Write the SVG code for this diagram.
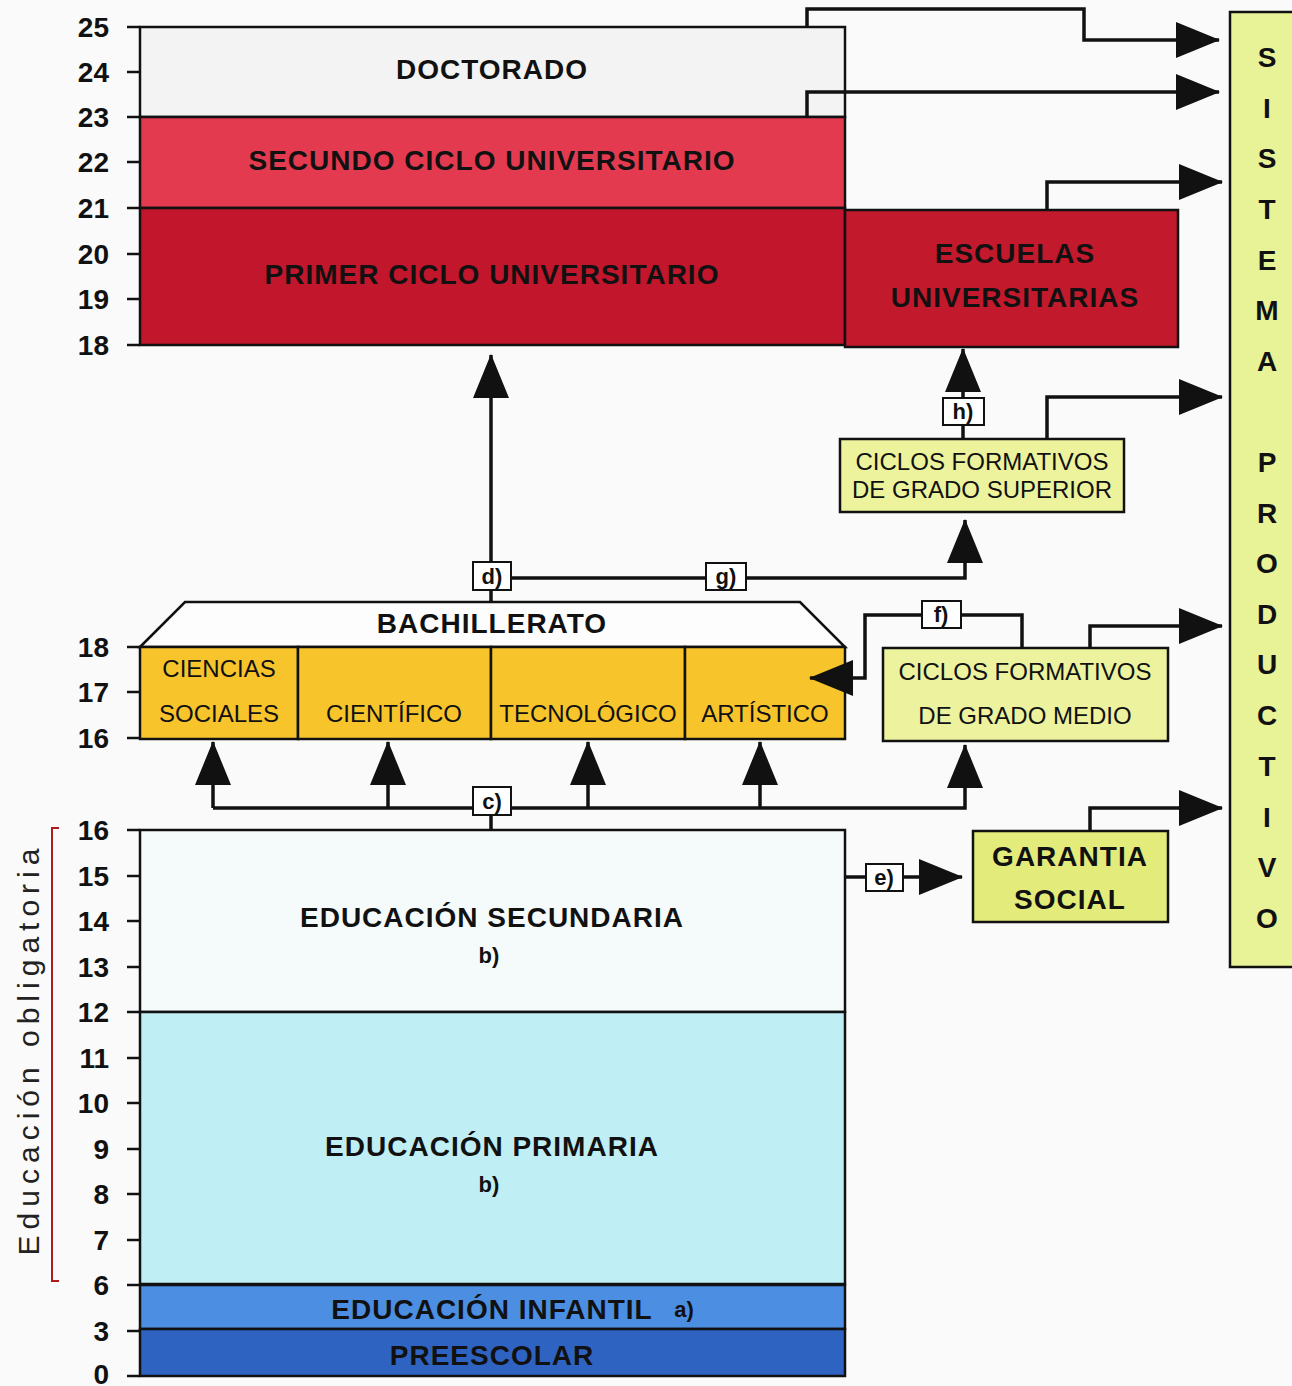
<svg xmlns="http://www.w3.org/2000/svg" width="1292" height="1386" viewBox="0 0 1292 1386">
<style>
.ax{font-family:"Liberation Sans",Arial,sans-serif;font-weight:bold;font-size:28px;text-anchor:end;fill:#111}
.bl{font-family:"Liberation Sans",Arial,sans-serif;font-weight:bold;font-size:28px;letter-spacing:1px;text-anchor:middle;fill:#111}
.rg{font-family:"Liberation Sans",Arial,sans-serif;font-size:24px;text-anchor:middle;fill:#111}
.sm{font-family:"Liberation Sans",Arial,sans-serif;font-weight:bold;font-size:22px;text-anchor:middle;fill:#111}
.sp{font-family:"Liberation Sans",Arial,sans-serif;font-weight:bold;font-size:28px;text-anchor:middle;fill:#111}
.bx{stroke:#111;stroke-width:2.5}
.tk{stroke:#111;stroke-width:2.5}
.cn{fill:none;stroke:#111;stroke-width:3.5}
.lb{fill:#fff;stroke:#111;stroke-width:2}
</style>
<defs>
<marker id="ah" viewBox="0 0 44 36" markerWidth="44" markerHeight="36" refX="43" refY="18" orient="auto" markerUnits="userSpaceOnUse">
<polygon points="0,0 44,18 0,36" fill="#111"/>
</marker>
</defs>
<rect width="1292" height="1386" fill="#fafafa"/>

<!-- axis -->
<g id="axis-top">
<line class="tk" x1="127" y1="27" x2="140" y2="27"/><text class="ax" x="109" y="37">25</text>
<line class="tk" x1="127" y1="72" x2="140" y2="72"/><text class="ax" x="109" y="82">24</text>
<line class="tk" x1="127" y1="117" x2="140" y2="117"/><text class="ax" x="109" y="127">23</text>
<line class="tk" x1="127" y1="162" x2="140" y2="162"/><text class="ax" x="109" y="172">22</text>
<line class="tk" x1="127" y1="208" x2="140" y2="208"/><text class="ax" x="109" y="218">21</text>
<line class="tk" x1="127" y1="254" x2="140" y2="254"/><text class="ax" x="109" y="264">20</text>
<line class="tk" x1="127" y1="299" x2="140" y2="299"/><text class="ax" x="109" y="309">19</text>
<line class="tk" x1="127" y1="345" x2="140" y2="345"/><text class="ax" x="109" y="355">18</text>
</g>
<g id="axis-mid">
<line class="tk" x1="127" y1="647" x2="140" y2="647"/><text class="ax" x="109" y="657">18</text>
<line class="tk" x1="127" y1="692" x2="140" y2="692"/><text class="ax" x="109" y="702">17</text>
<line class="tk" x1="127" y1="738" x2="140" y2="738"/><text class="ax" x="109" y="748">16</text>
</g>
<g id="axis-low">
<line class="tk" x1="127" y1="830" x2="140" y2="830"/><text class="ax" x="109" y="840">16</text>
<line class="tk" x1="127" y1="876" x2="140" y2="876"/><text class="ax" x="109" y="886">15</text>
<line class="tk" x1="127" y1="921" x2="140" y2="921"/><text class="ax" x="109" y="931">14</text>
<line class="tk" x1="127" y1="967" x2="140" y2="967"/><text class="ax" x="109" y="977">13</text>
<line class="tk" x1="127" y1="1012" x2="140" y2="1012"/><text class="ax" x="109" y="1022">12</text>
<line class="tk" x1="127" y1="1058" x2="140" y2="1058"/><text class="ax" x="109" y="1068">11</text>
<line class="tk" x1="127" y1="1103" x2="140" y2="1103"/><text class="ax" x="109" y="1113">10</text>
<line class="tk" x1="127" y1="1149" x2="140" y2="1149"/><text class="ax" x="109" y="1159">9</text>
<line class="tk" x1="127" y1="1194" x2="140" y2="1194"/><text class="ax" x="109" y="1204">8</text>
<line class="tk" x1="127" y1="1240" x2="140" y2="1240"/><text class="ax" x="109" y="1250">7</text>
<line class="tk" x1="127" y1="1285" x2="140" y2="1285"/><text class="ax" x="109" y="1295">6</text>
<line class="tk" x1="127" y1="1331" x2="140" y2="1331"/><text class="ax" x="109" y="1341">3</text>
<line class="tk" x1="127" y1="1376" x2="140" y2="1376"/><text class="ax" x="109" y="1384">0</text>
</g>
<g id="obligatoria">
<path d="M59,828 H52 V1281 H59" fill="none" stroke="#b01c1c" stroke-width="2"/>
<text transform="translate(39,1049) rotate(-90)" font-family="Liberation Sans, Arial, sans-serif" font-size="30" letter-spacing="6" text-anchor="middle" fill="#222">Educación obligatoria</text>
</g>

<!-- university -->
<g id="doctorado"><rect class="bx" x="140" y="27" width="705" height="90" fill="#f4f3f3"/><text class="bl" x="492" y="79">DOCTORADO</text></g>
<g id="segundo"><rect class="bx" x="140" y="117" width="705" height="91" fill="#e43a50"/><text class="bl" x="492" y="170">SECUNDO CICLO UNIVERSITARIO</text></g>
<g id="primer"><rect class="bx" x="140" y="208" width="705" height="137" fill="#c1162b"/><text class="bl" x="492" y="284">PRIMER CICLO UNIVERSITARIO</text></g>
<g id="escuelas"><rect class="bx" x="845" y="210" width="333" height="137" fill="#c3192d"/><text class="bl" x="1015" y="263">ESCUELAS</text><text class="bl" x="1015" y="307">UNIVERSITARIAS</text></g>

<!-- bachillerato -->
<g id="bachillerato">
<polygon class="bx" points="140,647 185,602 800,602 845,647" fill="#fdfdfd"/>
<text class="bl" x="492" y="633">BACHILLERATO</text>
<rect class="bx" x="140" y="647" width="158" height="92" fill="#f8c42c"/>
<rect class="bx" x="298" y="647" width="193" height="92" fill="#f8c42c"/>
<rect class="bx" x="491" y="647" width="194" height="92" fill="#f8c42c"/>
<rect class="bx" x="685" y="647" width="160" height="92" fill="#f8c42c"/>
<text class="rg" x="219" y="677">CIENCIAS</text>
<text class="rg" x="219" y="722">SOCIALES</text>
<text class="rg" x="394" y="722">CIENTÍFICO</text>
<text class="rg" x="588" y="722">TECNOLÓGICO</text>
<text class="rg" x="765" y="722">ARTÍSTICO</text>
</g>

<g id="cfgs"><rect class="bx" x="840" y="439" width="284" height="73" fill="#edf39c"/><text class="rg" x="982" y="470">CICLOS FORMATIVOS</text><text class="rg" x="982" y="498">DE GRADO SUPERIOR</text></g>
<g id="cfgm"><rect class="bx" x="883" y="648" width="285" height="93" fill="#ecf29e"/><text class="rg" x="1025" y="680">CICLOS FORMATIVOS</text><text class="rg" x="1025" y="724">DE GRADO MEDIO</text></g>
<g id="garantia"><rect class="bx" x="973" y="831" width="195" height="91" fill="#e3ec7a"/><text class="bl" x="1070" y="866">GARANTIA</text><text class="bl" x="1070" y="909">SOCIAL</text></g>

<!-- sistema productivo -->
<g id="sistema">
<rect class="bx" x="1230" y="12" width="70" height="955" fill="#e8f296"/>
<text class="sp" x="1267" y="67">S</text>
<text class="sp" x="1267" y="118">I</text>
<text class="sp" x="1267" y="168">S</text>
<text class="sp" x="1267" y="219">T</text>
<text class="sp" x="1267" y="270">E</text>
<text class="sp" x="1267" y="320">M</text>
<text class="sp" x="1267" y="371">A</text>
<text class="sp" x="1267" y="472">P</text>
<text class="sp" x="1267" y="523">R</text>
<text class="sp" x="1267" y="573">O</text>
<text class="sp" x="1267" y="624">D</text>
<text class="sp" x="1267" y="674">U</text>
<text class="sp" x="1267" y="725">C</text>
<text class="sp" x="1267" y="776">T</text>
<text class="sp" x="1267" y="827">I</text>
<text class="sp" x="1267" y="877">V</text>
<text class="sp" x="1267" y="928">O</text>
</g>

<!-- school -->
<g id="secundaria"><rect class="bx" x="140" y="830" width="705" height="182" fill="#f5fbfb"/><text class="bl" x="492" y="927">EDUCACIÓN SECUNDARIA</text><text class="sm" x="489" y="963">b)</text></g>
<g id="primaria"><rect class="bx" x="140" y="1012" width="705" height="272" fill="#c0eef5"/><text class="bl" x="492" y="1156">EDUCACIÓN PRIMARIA</text><text class="sm" x="489" y="1192">b)</text></g>
<g id="infantil"><rect class="bx" x="140" y="1285" width="705" height="44" fill="#4b8ee2"/><text class="bl" x="492" y="1319">EDUCACIÓN INFANTIL</text><text class="sm" x="684" y="1317">a)</text></g>
<g id="preescolar"><rect class="bx" x="140" y="1329" width="705" height="47" fill="#2f63c2"/><text class="bl" x="492" y="1365">PREESCOLAR</text></g>

<!-- connectors -->
<g id="connectors">
<path class="cn" d="M807,27 V9 H1084 V40 H1219" marker-end="url(#ah)"/>
<path class="cn" d="M807,117 V92 H1219" marker-end="url(#ah)"/>
<path class="cn" d="M1047,210 V182 H1222" marker-end="url(#ah)"/>
<path class="cn" d="M1047,439 V397 H1222" marker-end="url(#ah)"/>
<path class="cn" d="M1090,648 V626 H1222" marker-end="url(#ah)"/>
<path class="cn" d="M1090,831 V808 H1222" marker-end="url(#ah)"/>
<path class="cn" d="M491,602 V355" marker-end="url(#ah)"/>
<path class="cn" d="M491,578 H965 V520" marker-end="url(#ah)"/>
<path class="cn" d="M963,439 V349" marker-end="url(#ah)"/>
<path class="cn" d="M1022,648 V615 H865 V678 H810" marker-end="url(#ah)"/>
<path class="cn" d="M491,830 V808"/>
<path class="cn" d="M213,808 H965 V745" marker-end="url(#ah)"/>
<path class="cn" d="M213,808 V742" marker-end="url(#ah)"/>
<path class="cn" d="M388,808 V742" marker-end="url(#ah)"/>
<path class="cn" d="M588,808 V742" marker-end="url(#ah)"/>
<path class="cn" d="M760,808 V742" marker-end="url(#ah)"/>
<path class="cn" d="M845,877 H962" marker-end="url(#ah)"/>
<g id="lbl-c"><rect class="lb" x="473" y="787" width="38" height="28"/><text class="sm" x="492" y="809">c)</text></g>
<g id="lbl-d"><rect class="lb" x="473" y="562" width="38" height="28"/><text class="sm" x="492" y="584">d)</text></g>
<g id="lbl-e"><rect class="lb" x="866" y="864" width="37" height="27"/><text class="sm" x="884" y="885">e)</text></g>
<g id="lbl-f"><rect class="lb" x="922" y="601" width="39" height="27"/><text class="sm" x="941" y="622">f)</text></g>
<g id="lbl-g"><rect class="lb" x="706" y="563" width="40" height="27"/><text class="sm" x="726" y="584">g)</text></g>
<g id="lbl-h"><rect class="lb" x="943" y="398" width="41" height="27"/><text class="sm" x="963" y="419">h)</text></g>
</g>
</svg>
